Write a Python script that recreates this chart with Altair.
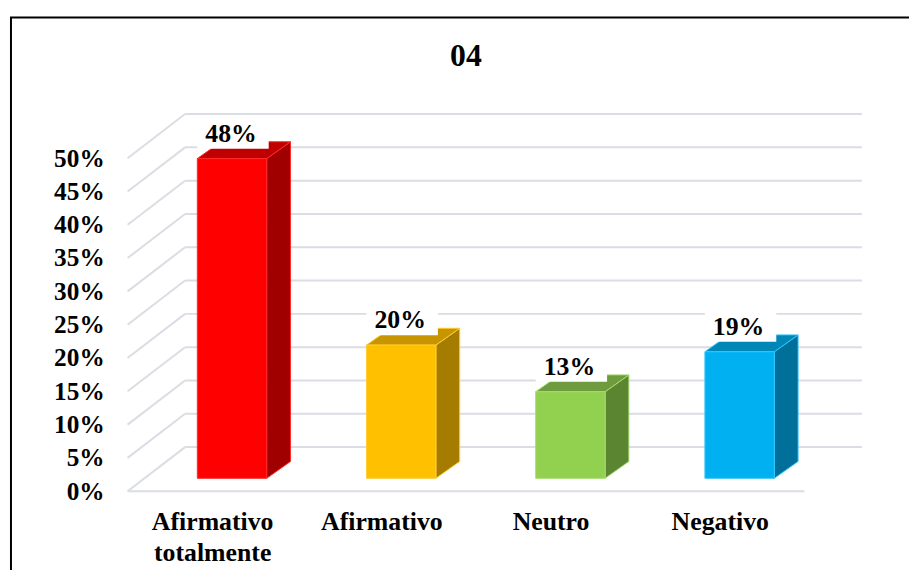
import json
import altair as alt
import pandas as pd

# ---------------- data ----------------
categories = ["Afirmativo\ntotalmente", "Afirmativo", "Neutro", "Negativo"]
values = [48, 20, 13, 19]
front_colors = ["#FF0000", "#FFC000", "#92D050", "#00B0F0"]
top_colors = ["#C00000", "#C79500", "#6E9B3D", "#0087B8"]
side_colors = ["#A00000", "#A57C00", "#5C8532", "#00709A"]
edge_colors = ["#FF2A2A", "#FFCB33", "#A6DB6C", "#33C4FF"]
y_ticks = [0, 5, 10, 15, 20, 25, 30, 35, 40, 45, 50]
title_text = "04"

# ---------------- layout (page pixels -> data units) ----------------
PAGE_M = 8
VIEW_L, VIEW_T, VIEW_R, VIEW_B = 129, 8, 917, 493   # page px of the plot area
W, H = VIEW_R - VIEW_L, VIEW_B - VIEW_T
PAD = {"left": VIEW_L - PAGE_M, "top": VIEW_T - PAGE_M, "right": 0, "bottom": 77}
PX_U = 170.7          # pixels per category step
PX_V = 6.72           # pixels per percentage point
CAT0_PAGE = 214       # page x of category 0 (front plane)


def u_of(px):
    return (px - CAT0_PAGE) / PX_U


def v_of(py):
    return (VIEW_B - py) / PX_V


X_DOMAIN = [u_of(VIEW_L), u_of(VIEW_R)]
Y_DOMAIN = [v_of(VIEW_B), v_of(VIEW_T)]

FLOOR_L, FLOOR_R = -0.5, len(categories) - 0.5
WALL_DU, WALL_DV = 58 / PX_U, 44.5 / PX_V
BAR_DU, BAR_DV = 20 / PX_U, 13 / PX_V
HALF_W = 35 / PX_U
DEP_DU, DEP_DV = 24 / PX_U, 17 / PX_V

FONT = "Liberation Serif"
GRID = "#DADDE3"

xs = alt.Scale(domain=X_DOMAIN, nice=False, zero=False)
ys = alt.Scale(domain=Y_DOMAIN, nice=False, zero=False)

label_expr = "split(" + json.dumps(categories) + "[round(datum.value)], '\\n')"
x_axis = alt.Axis(
    values=list(range(len(categories))), labelExpr=label_expr, orient="bottom",
    domain=False, ticks=False, grid=False, title=None,
    labelFont=FONT, labelFontSize=26, labelFontWeight="bold", labelColor="black",
    labelPadding=18, labelLineHeight=31, labelBaseline="top", labelAlign="center",
    labelOverlap=False, labelFlush=False)
y_axis = alt.Axis(
    values=y_ticks, labelExpr="datum.value + '%'", orient="left",
    domain=False, ticks=False, grid=False, title=None,
    labelFont=FONT, labelFontSize=25.5, labelFontWeight="bold", labelColor="black",
    labelPadding=24, labelOverlap=False, labelFlush=False)


def X(field):
    return alt.X(field, type="quantitative", scale=xs, axis=x_axis)


def Y(field):
    return alt.Y(field, type="quantitative", scale=ys, axis=y_axis)


# ---------------- gridlines ----------------
grid_rows = []
for v in y_ticks:
    grid_rows.append(dict(x=FLOOR_L, y=v, x2=FLOOR_L + WALL_DU, y2=v + WALL_DV))
    grid_rows.append(dict(x=FLOOR_L + WALL_DU, y=v + WALL_DV, x2=FLOOR_R + WALL_DU, y2=v + WALL_DV))
grid_rows.append(dict(x=FLOOR_L, y=0, x2=FLOOR_R, y2=0))
grid_df = pd.DataFrame(grid_rows)

grid = alt.Chart(grid_df).mark_rule(color=GRID, strokeWidth=2).encode(
    x=X("x"), x2="x2", y=Y("y"), y2="y2")

# ---------------- bars ----------------
front_rows, side_rows, top_rows, lab_rows = [], [], [], []
for i, (cat, v) in enumerate(zip(categories, values)):
    cf = i + BAR_DU
    base, top = BAR_DV, v + BAR_DV
    front_rows.append(dict(bar=i, x=cf - HALF_W, x2=cf + HALF_W, y=base, y2=top,
                           fill=front_colors[i], edge=edge_colors[i]))
    side_rows.append(dict(bar=i, x=cf + HALF_W, y=base, y2=top,
                          fill=side_colors[i], edge=edge_colors[i]))
    side_rows.append(dict(bar=i, x=cf + HALF_W + DEP_DU, y=base + DEP_DV, y2=top + DEP_DV,
                          fill=side_colors[i], edge=edge_colors[i]))
    top_rows.append(dict(bar=i, y=top, x=cf - HALF_W, x2=cf + HALF_W,
                         fill=top_colors[i], edge=edge_colors[i]))
    top_rows.append(dict(bar=i, y=top + DEP_DV, x=cf - HALF_W + DEP_DU, x2=cf + HALF_W + DEP_DU,
                         fill=top_colors[i], edge=edge_colors[i]))
    lab_rows.append(dict(bar=i, tx=cf - 1 / PX_U, ty=top + 17 / PX_V,
                         bx=cf - HALF_W, bx2=cf + 37 / PX_U,
                         by=top + 10 / PX_V, by2=top + 40 / PX_V,
                         label=f"{v}%"))

front_df = pd.DataFrame(front_rows)
side_df = pd.DataFrame(side_rows)
top_df = pd.DataFrame(top_rows)
lab_df = pd.DataFrame(lab_rows)

side = alt.Chart(side_df).mark_area(strokeWidth=1, opacity=1).encode(
    x=X("x"), y=Y("y"), y2="y2",
    fill=alt.Fill("fill:N", scale=None), stroke=alt.Stroke("edge:N", scale=None),
    detail="bar:N",
)
topf = alt.Chart(top_df).mark_area(orient="horizontal", strokeWidth=1, opacity=1).encode(
    y=Y("y"), x=X("x"), x2="x2",
    fill=alt.Fill("fill:N", scale=None), stroke=alt.Stroke("edge:N", scale=None),
    detail="bar:N",
)
front = alt.Chart(front_df).mark_rect(strokeWidth=1).encode(
    x=X("x"), x2="x2", y=Y("y"), y2="y2",
    fill=alt.Fill("fill:N", scale=None), stroke=alt.Stroke("edge:N", scale=None),
)
lab_box = alt.Chart(lab_df).mark_rect(color="white").encode(
    x=X("bx"), x2="bx2", y=Y("by"), y2="by2",
)
labels = alt.Chart(lab_df).mark_text(
    font=FONT, fontSize=26, fontWeight="bold", color="black",
    align="center", baseline="alphabetic").encode(
    x=X("tx"), y=Y("ty"), text="label:N",
)

# ---------------- outer border ----------------
border_df = pd.DataFrame([dict(x=u_of(11), x2=u_of(960), y=v_of(15), y2=v_of(640))])
border = alt.Chart(border_df).mark_rect(fillOpacity=0, stroke="black", strokeWidth=2).encode(
    x=X("x"), x2="x2", y=Y("y"), y2="y2",
)

chart = alt.layer(grid, side, topf, front, lab_box, labels, border).properties(
    width=W, height=H,
    autosize=alt.AutoSizeParams(type="none"),
    padding=PAD,
    background="white",
    title=alt.TitleParams(title_text, font=FONT, fontSize=32, fontWeight="bold",
                          color="black", anchor="middle", frame="group", orient="top",
                          baseline="alphabetic", offset=0, dy=88, dx=470 - (VIEW_L + W / 2)),
).configure_view(stroke="transparent", strokeWidth=0)

chart.save("out.html", embed_options={"renderer": "svg", "actions": False})
